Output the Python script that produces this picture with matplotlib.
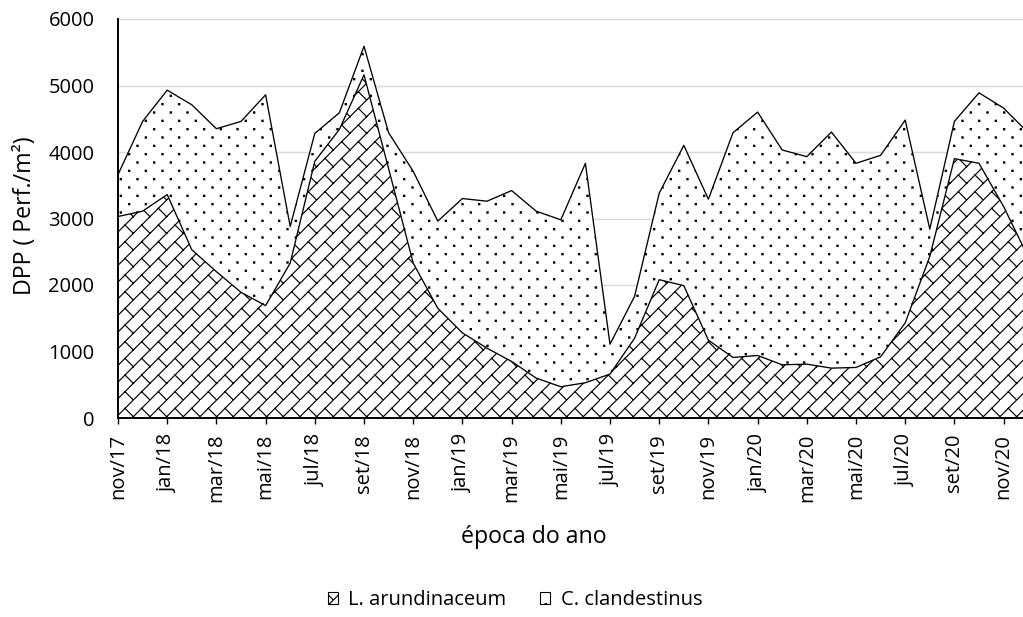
import numpy as np
import matplotlib
matplotlib.use("Agg")
import matplotlib.pyplot as plt
import matplotlib.hatch as mhatch
from matplotlib.path import Path
from matplotlib.patches import Patch

# ---------------- data ----------------
months = ["nov/17", "dez/17",
          "jan/18", "fev/18", "mar/18", "abr/18", "mai/18", "jun/18",
          "jul/18", "ago/18", "set/18", "out/18", "nov/18", "dez/18",
          "jan/19", "fev/19", "mar/19", "abr/19", "mai/19", "jun/19",
          "jul/19", "ago/19", "set/19", "out/19", "nov/19", "dez/19",
          "jan/20", "fev/20", "mar/20", "abr/20", "mai/20", "jun/20",
          "jul/20", "ago/20", "set/20", "out/20", "nov/20", "dez/20"]

l_arundinaceum = [3030, 3110, 3360, 2530, 2200, 1890, 1690, 2330, 3860, 4340,
                  5160, 3750, 2330, 1650, 1280, 1050, 850, 600, 470, 530,
                  660, 1200, 2080, 1990, 1170, 910, 940, 800, 810, 750,
                  760, 920, 1430, 2430, 3900, 3830, 3180, 2420]

c_clandestinus = [630, 1350, 1570, 2180, 2150, 2570, 3170, 550, 420, 250,
                  430, 540, 1380, 1310, 2020, 2210, 2570, 2510, 2510, 3300,
                  450, 630, 1300, 2110, 2120, 3380, 3660, 3230, 3120, 3550,
                  3070, 3030, 3050, 410, 560, 1060, 1480, 1870]

series_names = ["L. arundinaceum", "C. clandestinus"]
y_ticks = [0, 1000, 2000, 3000, 4000, 5000, 6000]
y_label = "DPP ( Perf./m²)"
x_label = "época do ano"


# ---------------- custom Excel-like hatch patterns ----------------
class DotHatch(mhatch.HatchPatternBase):
    """Sparse staggered dots (Excel 5% pattern)."""
    def __init__(self, hatch, density):
        self.on = hatch.count('.') > 0
        self.cols = int(density)
        self.rows = 2 * int(density)
        self.num_vertices = self.cols * self.rows * 5 if self.on else 0

    def set_vertices_and_codes(self, vertices, codes):
        s = 0.006
        k = 0
        for r in range(self.rows):
            yy = (r + 0.5) / self.rows
            off = 0.5 if r % 2 else 0.0
            for c in range(self.cols):
                xx = (c + 0.25 + off) / self.cols
                vertices[k:k + 5] = [[xx - s, yy - s], [xx + s, yy - s],
                                     [xx + s, yy + s], [xx - s, yy + s],
                                     [xx - s, yy - s]]
                codes[k:k + 5] = [Path.MOVETO, Path.LINETO, Path.LINETO,
                                  Path.LINETO, Path.CLOSEPOLY]
                k += 5


class BrickHatch(mhatch.HatchPatternBase):
    """Diagonal brick (Excel-like), keyed on 'O'."""
    def __init__(self, hatch, density):
        self.on = hatch.count('O') > 0
        self.n = int(density)
        self.num_vertices = self.n * self.n * 4 if self.on else 0

    def set_vertices_and_codes(self, vertices, codes):
        h = 1.0 / self.n
        k = 0
        for i in range(self.n):
            for j in range(self.n):
                x0, y0 = i * h, j * h
                # continuous up-right diagonal + short down-right segment
                vertices[k:k + 4] = [[x0, y0], [x0 + h, y0 + h],
                                     [x0 + h, y0], [x0 + h / 2, y0 + h / 2]]
                codes[k:k + 4] = [Path.MOVETO, Path.LINETO,
                                  Path.MOVETO, Path.LINETO]
                k += 4


mhatch._hatch_types = [t for t in mhatch._hatch_types
                       if t not in (mhatch.SmallFilledCircles, mhatch.LargeCircles)]
mhatch._hatch_types += [DotHatch, BrickHatch]

# ---------------- style ----------------
plt.rcParams['font.family'] = ['Open Sans', 'DejaVu Sans']
plt.rcParams['hatch.linewidth'] = 0.85
FS = 14.5
FS_TITLE = 16.7

W, H = 1023, 617
fig = plt.figure(figsize=(W / 100, H / 100), dpi=100)
x = np.arange(len(months))
lower = np.array(l_arundinaceum, dtype=float)
total = lower + np.array(c_clandestinus, dtype=float)

# axes: x=0 at px 118, x=last month at px ~1028 (beyond right edge)
x0_px, x_last_px = 118, 1028.2
y0_px, ytop_px = 418, 19
ax = fig.add_axes([x0_px / W, (H - y0_px) / H,
                   (x_last_px - x0_px) / W, (y0_px - ytop_px) / H])

ax.fill_between(x, 0, lower, facecolor='white', edgecolor='black',
                hatch='O', linewidth=0, zorder=2)
ax.fill_between(x, lower, total, facecolor='white', edgecolor='black',
                hatch='.', linewidth=0, zorder=2)
ax.plot(x, lower, color='black', lw=0.95, zorder=3)
ax.plot(x, total, color='black', lw=0.95, zorder=3)

ax.set_xlim(0, len(months) - 1)
ax.set_ylim(y_ticks[0], y_ticks[-1])
ax.set_yticks(y_ticks)
ax.set_yticklabels([str(v) for v in y_ticks])
ax.set_xticks(x[::2])
ax.set_xticklabels(months[::2], rotation=90, va='top', ha='center')

ax.set_axisbelow(True)
ax.yaxis.grid(True, color='#d9d9d9', lw=1.0, zorder=0)
ax.xaxis.grid(False)
for s in ('top', 'right'):
    ax.spines[s].set_visible(False)
for s in ('left', 'bottom'):
    ax.spines[s].set_color('black')
    ax.spines[s].set_linewidth(1.4)
    ax.spines[s].set_zorder(4)

ax.tick_params(axis='y', length=0, pad=17, labelsize=FS, colors='black')
ax.tick_params(axis='x', length=4.5, width=1, pad=7, labelsize=FS,
               direction='out', colors='black')

fig.text(25 / W, 1 - 216 / H, y_label, rotation=90, ha='center',
         va='center', fontsize=FS_TITLE)
fig.text(533.7 / W, 1 - 537 / H, x_label, ha='center', va='center',
         fontsize=FS_TITLE)

handles = [Patch(facecolor='white', edgecolor='black', hatch='O', lw=0.8),
           Patch(facecolor='white', edgecolor='black', hatch='.', lw=0.8)]
fig.legend(handles, series_names, loc='center',
           bbox_to_anchor=(515 / W, 1 - 600 / H), ncol=2, frameon=False,
           handlelength=0.5, handleheight=0.5, handletextpad=0.5,
           columnspacing=1.7, fontsize=FS)

fig.savefig('out.png', dpi=100)
